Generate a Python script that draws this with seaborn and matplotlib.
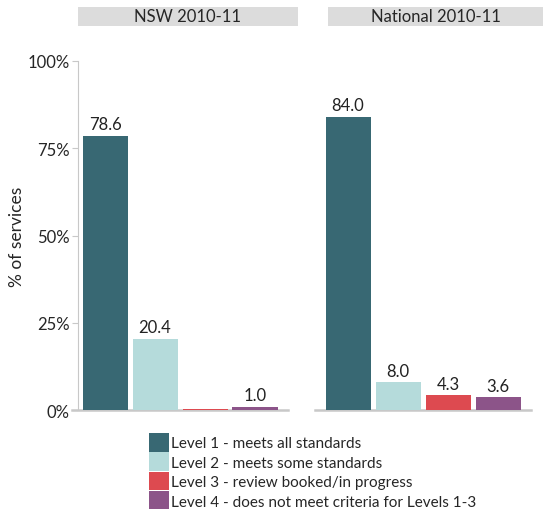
import pandas as pd
import seaborn as sns
import matplotlib.pyplot as plt
from matplotlib.patches import Rectangle, Patch

levels = ['Level 1 - meets all standards',
          'Level 2 - meets some standards',
          'Level 3 - review booked/in progress',
          'Level 4 - does not meet criteria for Levels 1-3']
panels = ['NSW 2010-11', 'National 2010-11']
nsw = [78.6, 20.4, 0.4, 1.0]
national = [84.0, 8.0, 4.3, 3.6]
nsw_labels = ['78.6', '20.4', '', '1.0']
national_labels = ['84.0', '8.0', '4.3', '3.6']
colors = ['#386873', '#b5dbdb', '#dd4a50', '#8c5489']

df = pd.DataFrame({'panel': [panels[0]] * 4 + [panels[1]] * 4,
                   'level': levels * 2,
                   'value': nsw + national})

sns.set_style('white')
plt.rcParams['font.family'] = ['Lato', 'DejaVu Sans']
plt.rcParams['font.size'] = 11.5

W, H = 543, 510
fig = plt.figure(figsize=(W / 100, H / 100), dpi=100)
pal = dict(zip(levels, colors))

def fax(x0, x1, y0, y1):
    return fig.add_axes([x0 / W, 1 - y1 / H, (x1 - x0) / W, (y1 - y0) / H])

axes = [fax(72, 288, 62, 411), fax(315, 531, 62, 411)]
labs = [nsw_labels, national_labels]

for i, ax in enumerate(axes):
    d = df[df['panel'] == panels[i]]
    sns.barplot(data=d, x='level', y='value', hue='level', palette=pal,
                order=levels, hue_order=levels, dodge=False, width=0.9,
                legend=False, ax=ax, saturation=1, linewidth=0, zorder=3)
    allbars = [p for c in ax.containers for p in c]
    for p, t in zip(allbars, labs[i]):
        if t:
            ax.text(p.get_x() + p.get_width() / 2, p.get_height() + 1.0, t,
                    ha='center', va='bottom', fontsize=12, color='#222222')
    ax.set_xlim(-0.66, 3.66)
    ax.set_ylim(0, 100)
    ax.set_xticks([])
    ax.set_xlabel('')
    ax.set_ylabel('')
    for s in ['top', 'right']:
        ax.spines[s].set_visible(False)
    ax.spines['bottom'].set_color('#c8c8c8')
    ax.spines['bottom'].set_linewidth(1.8)
    ax.spines['bottom'].set_zorder(1)
    if i == 0:
        ax.spines['left'].set_position(('data', -0.54))
        ax.spines['left'].set_color('#c8c8c8')
        ax.spines['left'].set_bounds(0, 100)
        ax.set_yticks([0, 25, 50, 75, 100])
        ax.set_yticklabels(['0%', '25%', '50%', '75%', '100%'], fontsize=12)
        ax.tick_params(axis='y', left=True, length=4, color='#c8c8c8', pad=2)
    else:
        ax.spines['left'].set_visible(False)
        ax.set_yticks([])

fig.text(17 / W, 1 - 237 / H, '% of services', rotation=90, ha='center',
         va='center', fontsize=12.5)

# facet strips
for (x0, x1), t in zip([(78, 298), (328, 543)], panels):
    fig.add_artist(Rectangle((x0 / W, 1 - 27 / H), (x1 - x0) / W, 19 / H,
                             transform=fig.transFigure, color='#dcdcdc', lw=0))
    fig.text((x0 + x1) / 2 / W, 1 - 17.5 / H, t, ha='center', va='center', fontsize=12)

handles = [Patch(facecolor=c, edgecolor='none') for c in colors]
fig.legend(handles, levels, loc='upper left', bbox_to_anchor=(149 / W, 1 - 434 / H),
           frameon=False, handlelength=1.3, handleheight=1.5, labelspacing=0.05,
           handletextpad=0.15, borderpad=0, borderaxespad=0, fontsize=11)

fig.savefig('out.png', dpi=100)
